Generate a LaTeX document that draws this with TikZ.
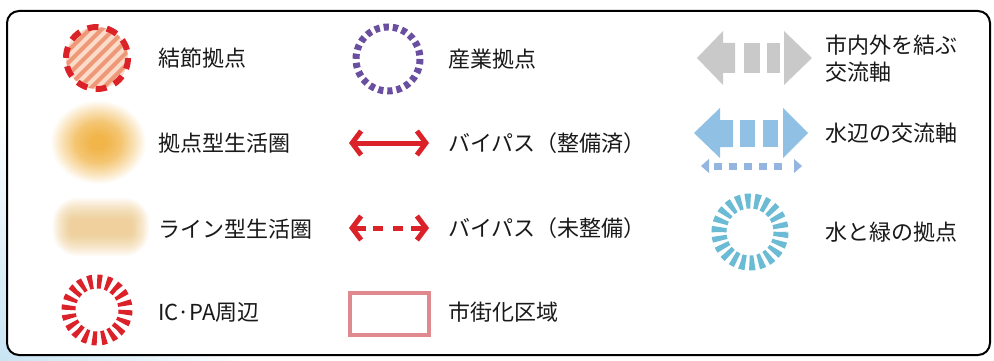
\documentclass[tikz,border=0pt]{standalone}
\usepackage{fontspec}
\setmainfont{Noto Sans CJK JP}
\usetikzlibrary{arrows.meta}
\definecolor{redc}{HTML}{DB2229}
\definecolor{hatchbg}{HTML}{FBDCCB}
\definecolor{hatchln}{HTML}{EE9878}
\definecolor{orcore}{HTML}{F1B54A}
\definecolor{lineor}{HTML}{F0C070}
\definecolor{purp}{HTML}{6A4FA0}
\definecolor{pinkr}{HTML}{E08A90}
\definecolor{grayax}{HTML}{C9C9C9}
\definecolor{blueax}{HTML}{91C0E5}
\definecolor{bluesm}{HTML}{93B5DF}
\definecolor{cyanc}{HTML}{6BBBD5}
\definecolor{bgblue}{HTML}{C8E4F3}
\pgfdeclareradialshading{blurorange}{\pgfpoint{0bp}{0bp}}{color(0bp)=(orcore); color(4bp)=(orcore); color(12bp)=(orcore!78!white); color(19bp)=(orcore!38!white); color(25bp)=(white); color(50bp)=(white)}
\pgfdeclareradialshading{bgshade}{\pgfpoint{0bp}{0bp}}{color(0bp)=(bgblue); color(25bp)=(white); color(50bp)=(white)}
\tikzset{
  lbl/.style={anchor=west, inner sep=0pt, font=\fontsize{22}{27}\selectfont, text=black!90},
  redarrow/.style={redc, line width=5pt, line cap=butt},
  bartip/.tip={Straight Barb[length=9pt, width=24pt]},
}
\begin{document}
\begin{tikzpicture}[x=1pt,y=-1pt]
\useasboundingbox (0,0) rectangle (994,361);
% background
\fill[white] (0,0) rectangle (994,361);
\begin{scope}
\clip (0,0) rectangle (994,361);
\shade[shading=bgshade] (0,361) circle [radius=250];
\end{scope}
% frame
\draw[line width=2pt, rounded corners=12pt, fill=white] (7,11) rectangle (990,355);

% ---- column 1 ----
% hatched node circle
\coordinate (hc) at (97,58);
\begin{scope}
\clip (hc) circle [radius=31];
\fill[hatchbg] (hc) circle [radius=31];
\foreach \k in {-5,...,5} {
  \draw[hatchln, line width=4pt] (97+12*\k-45,58+45) -- (97+12*\k+45,58-45);
}
\end{scope}
\draw[redc, line width=6pt, dash pattern=on 11pt off 8.5pt] (hc) circle [radius=31];
\node[lbl] (t1) at (158,58) {結節拠点};

% blurred ellipse
\shade[shading=blurorange] (98,142) ellipse [x radius=48, y radius=42];
\node[lbl] (t2) at (158,143) {拠点型生活圏};

% blurred line
\foreach \i in {0,...,19} {
  \pgfmathsetmacro{\hw}{30+0.95*\i}
  \pgfmathsetmacro{\hh}{7+1.15*\i}
  \pgfmathsetmacro{\rr}{3+1.1*\i}
  \fill[lineor, opacity=0.05, rounded corners=\rr pt]
    (101-\hw,227-\hh) rectangle (101+\hw,227+\hh);
}
\node[lbl] (t3) at (158,229) {ライン型生活圏};

% IC-PA circle
\draw[redc, line width=14pt, dash pattern=on 4.6pt off 4.35pt] (97,310) circle [radius=28.5];
\node[lbl] (t4) at (158,312) {IC·PA周辺};

% ---- column 2 ----
\draw[purp, line width=7pt, dash pattern=on 5.2pt off 3.95pt] (388,59) circle [radius=32];
\node[lbl] (t5) at (448,59) {産業拠点};

\coordinate (ba1) at (349,143);
\coordinate (ba2) at (429,143);
\draw[redarrow, bartip-bartip] (ba1) -- (ba2);
\node[lbl] (t6) at (448,143) {バイパス（整備済）};

\coordinate (bd1) at (349,228);
\coordinate (bd2) at (366,228);
\coordinate (bd3) at (373,228);
\coordinate (bd4) at (383,228);
\coordinate (bd5) at (393,228);
\coordinate (bd6) at (403,228);
\coordinate (bd7) at (411,228);
\coordinate (bd8) at (429,228);
\draw[redarrow, -bartip] (bd2) -- (bd1);
\draw[redarrow] (bd3) -- (bd4);
\draw[redarrow] (bd5) -- (bd6);
\draw[redarrow, -bartip] (bd7) -- (bd8);
\node[lbl] (t7) at (448,228) {バイパス（未整備）};

\draw[pinkr, line width=4pt] (350,293) rectangle (428.5,335);
\node[lbl] (t8) at (448,312) {市街化区域};

% ---- column 3 ----
% gray axis arrow
\fill[grayax] (697,58) -- (723,31) -- (723,43) -- (735,43) -- (735,73) -- (723,73) -- (723,85) -- cycle;
\fill[grayax] (744,43) rectangle (760,73);
\fill[grayax] (767,43) rectangle (780,73);
\fill[grayax] (784,31) -- (812,58) -- (784,85) -- cycle;
\node[lbl, align=left, anchor=west] (t9) at (825,58.5) {市内外を結ぶ\\交流軸};

% blue axis arrow
\fill[blueax] (694,133) -- (720,108) -- (720,120) -- (733,120) -- (733,147) -- (720,147) -- (720,158) -- cycle;
\fill[blueax] (740,120) rectangle (755,147);
\fill[blueax] (763,120) rectangle (778,147);
\fill[blueax] (783,108) -- (808,133) -- (783,158) -- cycle;
% small dashed arrow
\fill[bluesm] (701,166) -- (709,159) -- (709,173) -- cycle;
\foreach \x in {714,729,744,759,774} {
  \fill[bluesm] (\x,162.5) rectangle (\x+8,169.5);
}
\fill[bluesm] (794,159) -- (802,166) -- (794,173) -- cycle;
\node[lbl] (t10) at (825,133) {水辺の交流軸};

% water & green
\draw[cyanc, line width=15pt, dash pattern=on 5pt off 3.85pt] (750,232) circle [radius=31];
\node[lbl] (t11) at (825,232) {水と緑の拠点};
\end{tikzpicture}
\end{document}
